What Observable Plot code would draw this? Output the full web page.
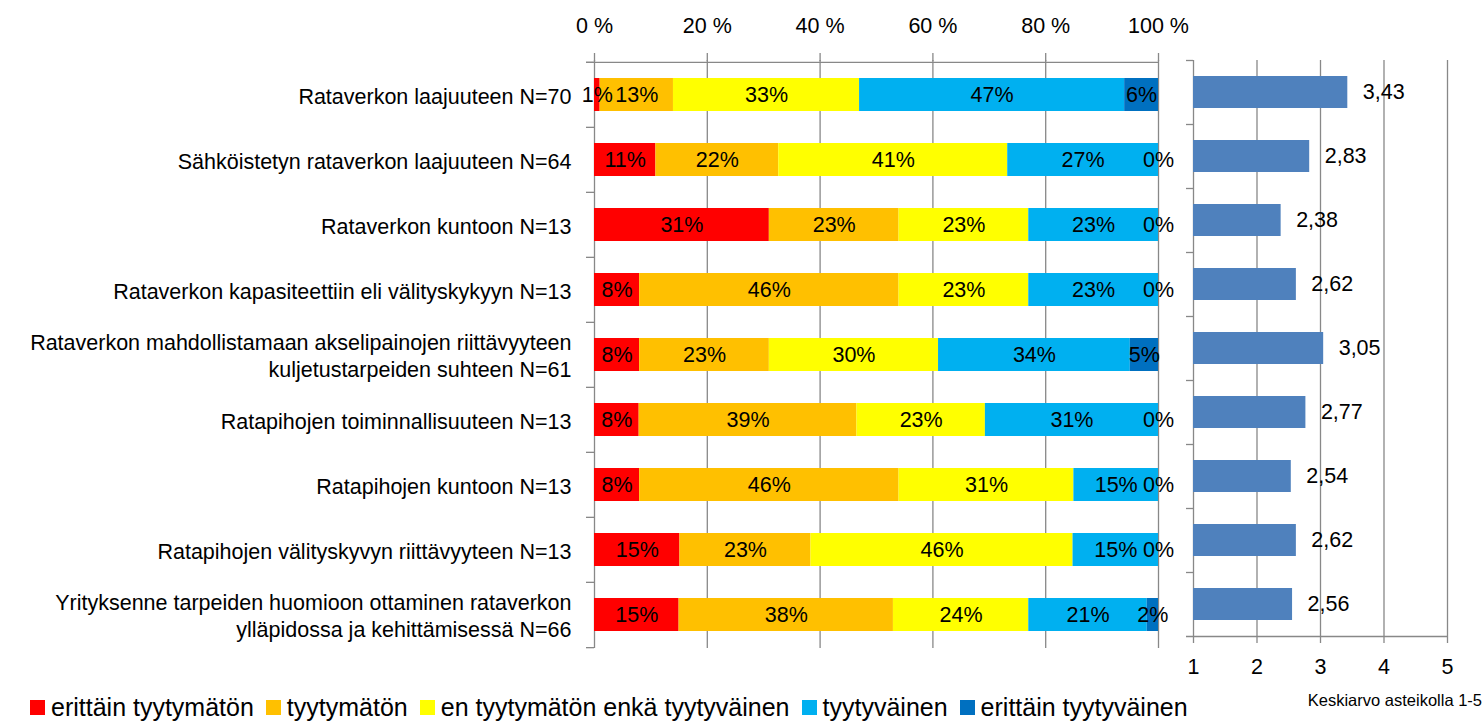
<!DOCTYPE html>
<html>
<head>
<meta charset="utf-8">
<script src="https://cdn.jsdelivr.net/npm/d3@7"></script>
<script src="https://cdn.jsdelivr.net/npm/@observablehq/plot@0.6"></script>
<style>
  html, body { margin: 0; padding: 0; background: #fff; }
  #wrap { position: relative; width: 1484px; height: 722px; overflow: hidden; font-family: "Liberation Sans", Arial, sans-serif; color: #000; }
  #left, #right { position: absolute; top: 0; }
  #left { left: 0; }
  #right { left: 1175px; }
  #legend { position: absolute; left: 30px; top: 695px; display: flex; align-items: center; font-size: 25px; line-height: 25px; white-space: nowrap; }
  #legend .sw { width: 15px; height: 15px; margin-right: 6px; flex: none; }
  #legend .lb { margin-right: 12px; }
  #caption { position: absolute; right: 2px; top: 691px; font-size: 16.5px; line-height: 18px; white-space: nowrap; }
</style>
</head>
<body>
<div id="wrap">
  <div id="left"></div>
  <div id="right"></div>
  <div id="legend"></div>
  <div id="caption">Keskiarvo asteikolla 1-5</div>
</div>
<script>
const categories = [
  "Rataverkon laajuuteen N=70",
  "Sähköistetyn rataverkon laajuuteen N=64",
  "Rataverkon kuntoon N=13",
  "Rataverkon kapasiteettiin eli välityskykyyn N=13",
  "Rataverkon mahdollistamaan akselipainojen riittävyyteen\nkuljetustarpeiden suhteen N=61",
  "Ratapihojen toiminnallisuuteen N=13",
  "Ratapihojen kuntoon N=13",
  "Ratapihojen välityskyvyn riittävyyteen N=13",
  "Yrityksenne tarpeiden huomioon ottaminen rataverkon\nylläpidossa ja kehittämisessä N=66"
];
const levels = ["erittäin tyytymätön", "tyytymätön", "en tyytymätön enkä tyytyväinen", "tyytyväinen", "erittäin tyytyväinen"];
const levelColors = ["#FF0000", "#FFC000", "#FFFF00", "#00B0F0", "#0070C0"];
const pctVeryDissatisfied = [1, 11, 31, 8, 8, 8, 8, 15, 15];
const pctDissatisfied     = [13, 22, 23, 46, 23, 39, 46, 23, 38];
const pctNeutral          = [33, 41, 23, 23, 30, 23, 31, 46, 24];
const pctSatisfied        = [47, 27, 23, 23, 34, 31, 15, 15, 21];
const pctVerySatisfied    = [6, 0, 0, 0, 5, 0, 0, 0, 2];
const means = [3.43, 2.83, 2.38, 2.62, 3.05, 2.77, 2.54, 2.62, 2.56];
const pctTicks = [0, 20, 40, 60, 80, 100];
const meanTicks = [1, 2, 3, 4, 5];

const series = [pctVeryDissatisfied, pctDissatisfied, pctNeutral, pctSatisfied, pctVerySatisfied];
const stacked = [];
categories.forEach((c, i) => levels.forEach((l, j) => stacked.push({category: c, level: l, value: series[j][i]})));
const meanData = categories.map((c, i) => ({category: c, mean: means[i]}));

const FONT = "Liberation Sans, Arial, sans-serif";
const GRID = "#888888";
const FS = 21.5;

// ---------- left: stacked 100% bars ----------
const L = {width: 1175, height: 660, mt: 60, mb: 12, ml: 594, mr: 17};
const stepL = (L.height - L.mt - L.mb) / categories.length;
const xTicks = pctTicks.map(d => d / 100);

const left = Plot.plot({
  width: L.width, height: L.height,
  marginTop: L.mt, marginBottom: L.mb, marginLeft: L.ml, marginRight: L.mr,
  style: {fontFamily: FONT, fontSize: FS + "px", color: "#000", background: "transparent", overflow: "visible"},
  x: {domain: [0, 1], axis: null},
  y: {domain: categories, paddingInner: 0.5, paddingOuter: 0.25, axis: null},
  color: {domain: levels, range: levelColors},
  marks: [
    Plot.gridX(xTicks, {stroke: GRID, strokeOpacity: 1, strokeWidth: 1.3}),
    Plot.axisX(xTicks, {anchor: "top", tickSize: 8, tickPadding: 20, stroke: GRID, strokeWidth: 1.3,
      tickFormat: d => Math.round(d * 100) + " %", fontSize: FS, fill: "#000", label: null}),
    Plot.ruleY([categories[0]], {y: d => d, x1: 0, x2: 1, insetLeft: -8, dy: -stepL / 2, stroke: GRID, strokeWidth: 1.3}),
    Plot.ruleY(categories, {y: d => d, x1: 0, x2: 0, insetLeft: -8, dy: -stepL / 2, stroke: GRID, strokeWidth: 1.3}),
    Plot.ruleY([categories[categories.length - 1]], {y: d => d, x1: 0, x2: 0, insetLeft: -8, dy: stepL / 2, stroke: GRID, strokeWidth: 1.3}),
    Plot.barX(stacked, Plot.stackX({x: "value", y: "category", z: "level", fill: "level", order: levels, offset: "normalize"})),
    Plot.text(stacked, Plot.stackX({x: "value", y: "category", z: "level", order: levels, offset: "normalize",
      text: d => d.value + "%", fill: "#000", fontSize: FS})),
    Plot.text(categories, {y: d => d, text: d => d, frameAnchor: "left", textAnchor: "end", dx: -23,
      lineHeight: 1.27, fontSize: FS, fill: "#000", ariaLabel: "category-labels"})
  ]
});
document.getElementById("left").appendChild(left);

// center multi-line category labels (Excel style: lines centred, block right-aligned)
left.querySelectorAll('g[aria-label="category-labels"] text').forEach(t => {
  const spans = t.querySelectorAll("tspan");
  if (spans.length > 1) {
    let w = 0;
    spans.forEach(s => { w = Math.max(w, s.getComputedTextLength()); });
    t.setAttribute("text-anchor", "middle");
    spans.forEach(s => s.setAttribute("x", -w / 2));
  }
});

// ---------- right: mean bars ----------
const R = {width: 309, height: 690, mt: 60, mb: 54, ml: 18, mr: 37};
const stepR = (R.height - R.mt - R.mb) / categories.length;
const right = Plot.plot({
  width: R.width, height: R.height,
  marginTop: R.mt, marginBottom: R.mb, marginLeft: R.ml, marginRight: R.mr,
  style: {fontFamily: FONT, fontSize: FS + "px", color: "#000", background: "transparent", overflow: "visible"},
  x: {domain: [1, 5], axis: null},
  y: {domain: categories, paddingInner: 0.5, paddingOuter: 0.25, axis: null},
  marks: [
    Plot.gridX(meanTicks, {stroke: GRID, strokeOpacity: 1, strokeWidth: 1.3}),
    Plot.axisX(meanTicks, {anchor: "bottom", tickSize: 7, tickPadding: 15, stroke: GRID, strokeWidth: 1.3,
      tickFormat: d => String(d), fontSize: FS, fill: "#000", label: null}),
    Plot.ruleY([categories[categories.length - 1]], {y: d => d, x1: 1, x2: 5, insetLeft: -7, dy: stepR / 2, stroke: GRID, strokeWidth: 1.3}),
    Plot.ruleY(categories, {y: d => d, x1: 1, x2: 1, insetLeft: -7, dy: -stepR / 2, stroke: GRID, strokeWidth: 1.3}),
    Plot.barX(meanData, {y: "category", x1: () => 1, x2: "mean", fill: "#4F81BD"}),
    Plot.text(meanData, {y: "category", x: "mean", text: d => d.mean.toFixed(2).replace(".", ","),
      textAnchor: "start", dx: 15, fontSize: FS, fill: "#000"})
  ]
});
document.getElementById("right").appendChild(right);

// ---------- legend ----------
const legend = document.getElementById("legend");
levels.forEach((l, i) => {
  const sw = document.createElement("span");
  sw.className = "sw";
  sw.style.background = levelColors[i];
  const lb = document.createElement("span");
  lb.className = "lb";
  lb.textContent = l;
  legend.appendChild(sw);
  legend.appendChild(lb);
});
</script>
</body>
</html>
